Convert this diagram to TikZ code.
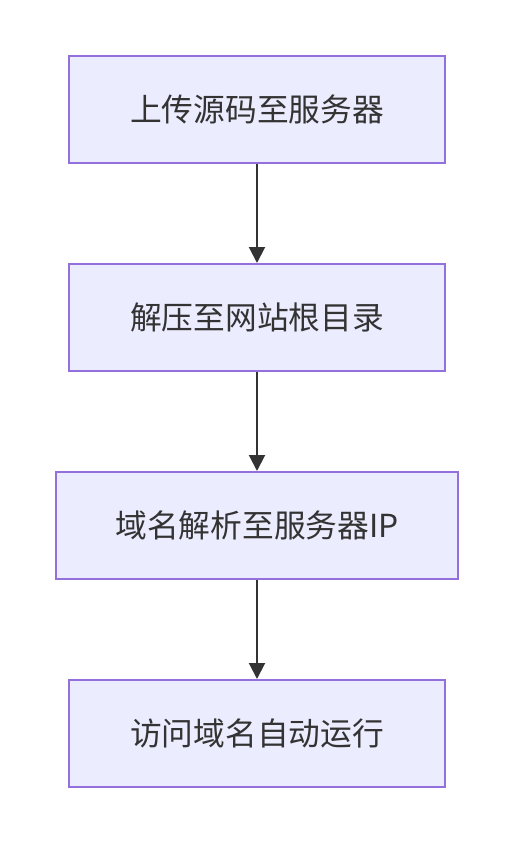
\documentclass[tikz,border=0pt]{standalone}
\usepackage{fontspec}
\setmainfont{Noto Sans CJK SC}
\usetikzlibrary{arrows.meta}
\definecolor{boxfill}{HTML}{ECECFF}
\definecolor{boxline}{HTML}{9370DB}
\definecolor{ink}{HTML}{333333}
\tikzset{
  stepbox/.style={draw=boxline, fill=boxfill, line width=1.5pt, inner sep=0pt, text=ink,
    font=\fontsize{23.8pt}{28pt}\selectfont},
  flow/.style={draw=ink, line width=1.5pt, -{Triangle[length=12pt,width=12pt]}}
}
\begin{document}
\begin{tikzpicture}[x=0.75pt,y=-0.75pt]
\useasboundingbox (0,0) rectangle (514,844);
\node[stepbox, minimum width=376*0.75pt, minimum height=107*0.75pt] (a) at (257,109.5) {上传源码至服务器};
\node[stepbox, minimum width=376*0.75pt, minimum height=107*0.75pt] (b) at (257,317.5) {解压至网站根目录};
\node[stepbox, minimum width=402*0.75pt, minimum height=107*0.75pt] (c) at (257,525.5) {域名解析至服务器IP};
\node[stepbox, minimum width=376*0.75pt, minimum height=107*0.75pt] (d) at (257,733.5) {访问域名自动运行};
\draw[flow] (a) -- (b);
\draw[flow] (b) -- (c);
\draw[flow] (c) -- (d);
\end{tikzpicture}
\end{document}
